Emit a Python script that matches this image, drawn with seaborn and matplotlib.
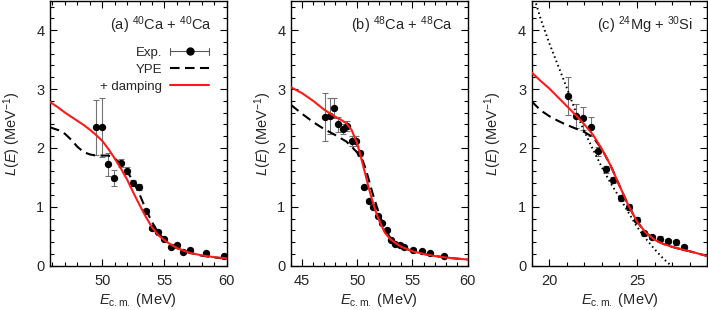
import numpy as np
import pandas as pd
import matplotlib
matplotlib.use("Agg")
import matplotlib.pyplot as plt
import seaborn as sns
from matplotlib.lines import Line2D
from matplotlib.legend_handler import HandlerBase
from matplotlib.ticker import MultipleLocator

# ---------------- data ----------------
# (a) 40Ca + 40Ca
a_exp_x = [49.47, 49.95, 50.43, 50.97, 51.48, 51.97, 52.5, 52.98, 53.52, 53.98, 54.5, 55.0, 55.5, 56.0, 56.5, 57.05, 58.33, 59.8]
a_exp_y = [2.35, 2.35, 1.72, 1.49, 1.74, 1.61, 1.41, 1.34, 0.93, 0.64, 0.58, 0.45, 0.32, 0.35, 0.24, 0.27, 0.21, 0.16]
a_exp_err = [0.47, 0.50, 0.20, 0.14, 0.07, 0.06, 0.05, 0.05, 0.04, 0.03, 0.03, 0.02, 0.02, 0.02, 0.02, 0.02, 0.02, 0.02]
a_ype_x = [45.8, 46.5, 47.0, 47.5, 48.0, 48.5, 49.0, 49.5, 50.0, 50.5, 51.0, 51.5, 52.0, 52.5, 53.0, 53.5, 54.0, 54.5, 55.0, 56.0, 57.0, 58.0, 59.0, 60.0]
a_ype_y = [2.35, 2.30, 2.24, 2.14, 2.02, 1.93, 1.89, 1.87, 1.87, 1.87, 1.82, 1.73, 1.60, 1.43, 1.21, 0.96, 0.74, 0.56, 0.44, 0.30, 0.22, 0.17, 0.14, 0.12]
a_dmp_x = [45.8, 46.5, 47.0, 47.5, 48.0, 48.5, 49.0, 49.5, 50.0, 50.5, 51.0, 51.5, 52.0, 52.5, 53.0, 53.5, 54.0, 54.5, 55.0, 55.5, 56.0, 57.0, 58.0, 59.0, 60.0]
a_dmp_y = [2.78, 2.68, 2.60, 2.53, 2.46, 2.39, 2.31, 2.22, 2.12, 1.98, 1.82, 1.65, 1.46, 1.24, 1.03, 0.83, 0.65, 0.52, 0.43, 0.36, 0.30, 0.22, 0.175, 0.145, 0.125]

# (b) 48Ca + 48Ca
b_exp_x = [47.05, 47.5, 47.9, 48.3, 48.7, 49.1, 49.5, 49.9, 50.27, 50.65, 51.05, 51.4, 51.86, 52.26, 52.66, 53.05, 53.45, 53.88, 54.23, 55.03, 55.84, 56.62, 57.84]
b_exp_y = [2.53, 2.54, 2.67, 2.40, 2.32, 2.37, 2.11, 2.11, 1.91, 1.33, 1.10, 1.00, 0.84, 0.72, 0.61, 0.44, 0.37, 0.36, 0.31, 0.275, 0.25, 0.21, 0.165]
b_exp_err = [0.41, 0.31, 0.17, 0.13, 0.08, 0.09, 0.085, 0.085, 0.04, 0.03, 0.03, 0.03, 0.02, 0.02, 0.02, 0.02, 0.02, 0.02, 0.02, 0.02, 0.02, 0.02, 0.02]
b_ype_x = [44.0, 45.0, 46.0, 47.0, 48.0, 49.0, 49.5, 50.0, 50.5, 50.75, 51.0, 51.25, 51.5, 52.0, 52.5, 53.0, 53.5, 54.0, 55.0, 56.0, 57.0, 58.0, 59.0, 60.0]
b_ype_y = [2.73, 2.58, 2.44, 2.32, 2.22, 2.11, 2.02, 1.92, 1.78, 1.65, 1.49, 1.32, 1.16, 0.87, 0.63, 0.47, 0.38, 0.32, 0.245, 0.20, 0.165, 0.14, 0.12, 0.105]
b_dmp_x = [44.0, 45.0, 46.0, 47.0, 48.0, 48.5, 49.0, 49.5, 50.0, 50.25, 50.5, 50.75, 51.0, 51.25, 51.5, 51.75, 52.0, 52.5, 53.0, 53.5, 54.0, 55.0, 56.0, 57.0, 58.0, 59.0, 60.0]
b_dmp_y = [3.03, 2.93, 2.80, 2.65, 2.53, 2.48, 2.42, 2.30, 2.07, 1.90, 1.72, 1.54, 1.35, 1.18, 1.02, 0.88, 0.76, 0.56, 0.45, 0.38, 0.32, 0.245, 0.20, 0.165, 0.14, 0.12, 0.105]

# (c) 24Mg + 30Si
c_exp_x = [21.09, 21.53, 21.94, 22.37, 22.8, 23.24, 23.66, 24.1, 24.55, 24.99, 25.42, 25.87, 26.33, 26.79, 27.23, 27.66]
c_exp_y = [2.88, 2.54, 2.50, 2.36, 1.94, 1.64, 1.45, 1.15, 0.99, 0.78, 0.55, 0.485, 0.46, 0.42, 0.40, 0.315]
c_exp_err = [0.32, 0.20, 0.20, 0.16, 0.08, 0.06, 0.05, 0.05, 0.05, 0.04, 0.04, 0.04, 0.04, 0.04, 0.04, 0.04]
c_ype_x = [19.0, 19.5, 20.0, 20.5, 21.0, 21.5, 22.0, 22.5, 23.0, 23.5, 24.0, 24.5, 25.0, 25.5, 26.0, 26.5, 27.0, 27.5, 28.0, 28.5, 29.0]
c_ype_y = [2.79, 2.64, 2.54, 2.46, 2.39, 2.33, 2.27, 2.18, 1.98, 1.70, 1.36, 1.03, 0.75, 0.56, 0.44, 0.37, 0.32, 0.28, 0.245, 0.205, 0.165]
c_dmp_x = [19.0, 19.5, 20.0, 20.5, 21.0, 21.5, 22.0, 22.5, 23.0, 23.5, 24.0, 24.5, 25.0, 25.5, 26.0, 26.5, 27.0, 27.5, 28.0, 28.5, 29.0]
c_dmp_y = [3.28, 3.14, 3.01, 2.86, 2.71, 2.56, 2.40, 2.22, 1.98, 1.70, 1.36, 1.03, 0.75, 0.56, 0.44, 0.37, 0.32, 0.28, 0.245, 0.205, 0.165]
c_dot_x = [19.15, 19.5, 20.0, 20.5, 21.0, 21.5, 22.0, 22.5, 23.0, 23.5, 24.0, 24.5, 25.0, 25.5, 26.0, 26.5, 26.95]
c_dot_y = [4.55, 4.20, 3.78, 3.40, 3.02, 2.62, 2.28, 1.97, 1.67, 1.40, 1.16, 0.91, 0.66, 0.46, 0.28, 0.12, 0.0]

titles = [r"(a) $^{40}$Ca + $^{40}$Ca", r"(b) $^{48}$Ca + $^{48}$Ca", r"(c) $^{24}$Mg + $^{30}$Si"]
legend_labels = ["Exp.", "YPE", "+ damping"]

# ---------------- style ----------------
sns.set_style("ticks")
plt.rcParams["font.family"] = ["Liberation Sans", "DejaVu Sans"]
plt.rcParams["mathtext.fontset"] = "custom"
plt.rcParams["mathtext.rm"] = "Liberation Sans"
plt.rcParams["mathtext.it"] = "Liberation Sans:italic"
plt.rcParams["mathtext.bf"] = "Liberation Sans:bold"
plt.rcParams["font.size"] = 10.5

RED = "#ff1a1a"
FS = 10.5

fig = plt.figure(figsize=(7.08, 3.10), dpi=100)
H = 310.0
W = 708.0
bottom = 44.3 / H
height = (309.3 - 44.3) / H
ax_a = fig.add_axes([50 / W, bottom, 176.7 / W, height])
ax_b = fig.add_axes([291 / W, bottom, 176.7 / W, height])
ax_c = fig.add_axes([531.7 / W, bottom, 175.5 / W, height])


def draw_panel(ax, ex, ey, ee, yx, yy, dx, dy):
    sns.lineplot(x=yx, y=yy, ax=ax, color="black", lw=1.5, sort=False,
                 estimator=None, dashes=False, zorder=3)
    ax.lines[-1].set_dashes((4.6, 2.6))
    ax.errorbar(ex, ey, yerr=ee, fmt="none", ecolor="0.45", elinewidth=0.8,
                capsize=2.3, capthick=0.8, zorder=2)
    sns.scatterplot(x=ex, y=ey, ax=ax, color="black", s=28, edgecolor="black",
                    linewidth=0, zorder=4)
    sns.lineplot(x=dx, y=dy, ax=ax, color=RED, lw=1.5, sort=False,
                 estimator=None, zorder=5)


draw_panel(ax_a, a_exp_x, a_exp_y, a_exp_err, a_ype_x, a_ype_y, a_dmp_x, a_dmp_y)
draw_panel(ax_b, b_exp_x, b_exp_y, b_exp_err, b_ype_x, b_ype_y, b_dmp_x, b_dmp_y)
draw_panel(ax_c, c_exp_x, c_exp_y, c_exp_err, c_ype_x, c_ype_y, c_dmp_x, c_dmp_y)
sns.lineplot(x=c_dot_x, y=c_dot_y, ax=ax_c, color="black", lw=1.4, sort=False,
             estimator=None, zorder=3)
ax_c.lines[-1].set_linestyle((0, (0.8, 1.6)))

ax_a.set_xlim(45.8, 60)
ax_b.set_xlim(44, 60)
ax_c.set_xlim(19, 29)
ax_a.xaxis.set_major_locator(MultipleLocator(5))
ax_b.xaxis.set_major_locator(MultipleLocator(5))
ax_c.xaxis.set_major_locator(MultipleLocator(5))

ylab_x = [-0.215, -0.158, -0.221]
for ax, title, lx in zip([ax_a, ax_b, ax_c], titles, ylab_x):
    ax.set_ylim(0, 4.5)
    ax.yaxis.set_major_locator(MultipleLocator(1))
    ax.yaxis.set_minor_locator(MultipleLocator(0.2))
    ax.xaxis.set_minor_locator(MultipleLocator(1))
    ax.tick_params(which="both", direction="in", top=True, right=True,
                   labelsize=FS, width=0.8, color="black")
    ax.tick_params(which="major", length=5)
    ax.tick_params(which="minor", length=3)
    ax.tick_params(axis="x", pad=6)
    ax.tick_params(axis="y", pad=4)
    for sp in ax.spines.values():
        sp.set_linewidth(1.0)
        sp.set_color("black")
        sp.set_visible(True)
    ax.set_xlabel(r"$E_{\mathrm{c.m.}}$ (MeV)", fontsize=FS)
    ax.xaxis.set_label_coords(0.5, -0.095)
    ax.set_ylabel(r"$L$($E$) (MeV$^{-1}$)", fontsize=FS, va="center")
    ax.yaxis.set_label_coords(lx, 0.5)
    ax.text(0.917, 0.89, title, transform=ax.transAxes, ha="right",
            va="baseline", fontsize=FS)


# ---------------- legend ----------------
class HandlerHErr(HandlerBase):
    def create_artists(self, legend, orig_handle, xdescent, ydescent, width,
                       height, fontsize, trans):
        y = height / 2.0 - ydescent
        x0 = -xdescent
        x1 = width - xdescent
        h = 2.4
        arts = [
            Line2D([x0, x1], [y, y], color="0.35", lw=0.8),
            Line2D([x0, x0], [y - h, y + h], color="0.35", lw=0.8),
            Line2D([x1, x1], [y - h, y + h], color="0.35", lw=0.8),
            Line2D([(x0 + x1) / 2.0], [y], marker="o", ms=5, color="black",
                   ls="none"),
        ]
        for a in arts:
            a.set_transform(trans)
        return arts


exp_handle = Line2D([], [], color="black")
ype_handle = Line2D([], [], color="black", lw=1.5, dashes=(4.6, 2.6))
dmp_handle = Line2D([], [], color=RED, lw=1.5)
leg = ax_a.legend([exp_handle, ype_handle, dmp_handle], legend_labels,
                  handler_map={exp_handle: HandlerHErr()},
                  loc="upper right", bbox_to_anchor=(0.90, 0.826),
                  frameon=False, markerfirst=False, fontsize=9.5,
                  handlelength=2.95, handletextpad=0.6, labelspacing=0.36,
                  borderpad=0, borderaxespad=0)

fig.savefig("out.png", dpi=100)
